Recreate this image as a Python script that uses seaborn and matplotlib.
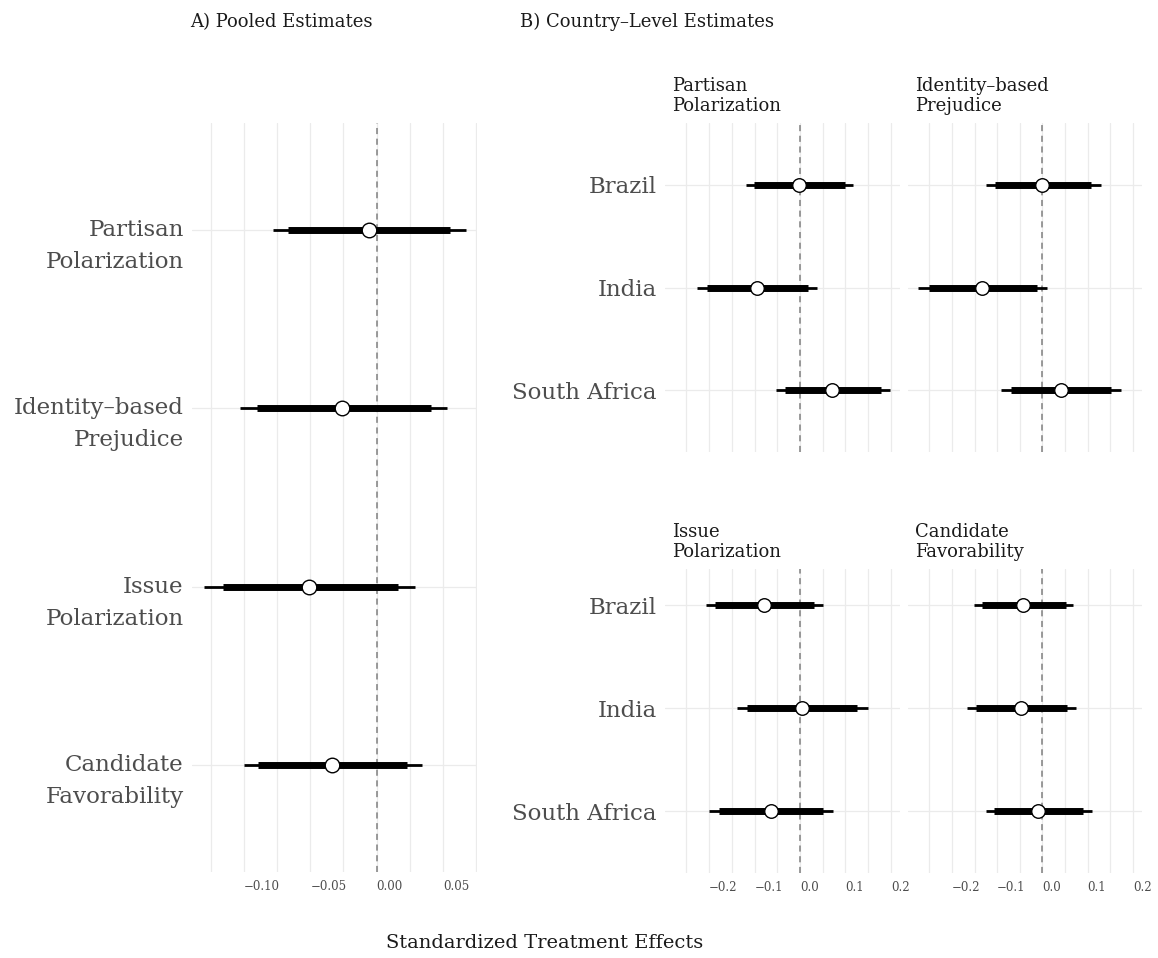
import numpy as np
import pandas as pd
import matplotlib
matplotlib.use("Agg")
import matplotlib.pyplot as plt
import seaborn as sns
from matplotlib.ticker import MultipleLocator
from matplotlib.transforms import ScaledTranslation

# --- data ---
pooled_outcomes = ["Partisan\nPolarization", "Identity–based\nPrejudice",
                   "Issue\nPolarization", "Candidate\nFavorability"]
pooled_est = [-0.006, -0.026, -0.051, -0.034]
pooled_lo95 = [-0.078, -0.103, -0.130, -0.100]
pooled_lo90 = [-0.067, -0.090, -0.116, -0.089]
pooled_hi90 = [0.055, 0.041, 0.016, 0.023]
pooled_hi95 = [0.067, 0.053, 0.029, 0.034]

countries = ["Brazil", "India", "South Africa"]

partisan_est = [-0.002, -0.095, 0.070]
partisan_lo95 = [-0.119, -0.226, -0.053]
partisan_lo90 = [-0.101, -0.204, -0.033]
partisan_hi90 = [0.099, 0.018, 0.178]
partisan_hi95 = [0.117, 0.037, 0.198]

identity_est = [0.000, -0.134, 0.040]
identity_lo95 = [-0.125, -0.275, -0.092]
identity_lo90 = [-0.104, -0.250, -0.070]
identity_hi90 = [0.108, -0.013, 0.152]
identity_hi95 = [0.129, 0.011, 0.174]

issue_est = [-0.079, 0.004, -0.064]
issue_lo95 = [-0.207, -0.139, -0.200]
issue_lo90 = [-0.187, -0.116, -0.178]
issue_hi90 = [0.031, 0.126, 0.050]
issue_hi95 = [0.051, 0.150, 0.073]

candidate_est = [-0.044, -0.048, -0.009]
candidate_lo95 = [-0.152, -0.167, -0.125]
candidate_lo90 = [-0.134, -0.147, -0.108]
candidate_hi90 = [0.051, 0.055, 0.090]
candidate_hi95 = [0.068, 0.075, 0.110]

pooled_ticks = [-0.10, -0.05, 0.00, 0.05]
country_ticks = [-0.2, -0.1, 0.0, 0.1, 0.2]

sns.set_theme(style="white")
plt.rcParams["font.family"] = ["DejaVu Serif"]

W, H = 1158, 958
fig = plt.figure(figsize=(W / 100, H / 100), dpi=100)


def px_axes(l, t, r, b):
    return fig.add_axes([l / W, 1 - b / H, (r - l) / W, (b - t) / H])


def forest(ax, labels, est, lo95, lo90, hi90, hi95, size, ticks, fmt, minor, ylim_top=0.6):
    df = pd.DataFrame({"pos": np.arange(len(labels)), "est": est,
                       "lo95": lo95, "lo90": lo90, "hi90": hi90, "hi95": hi95})
    ax.axvline(0, color="#7f7f7f", lw=1.1, ls=(0, (4, 3)), zorder=1)
    ax.hlines(df["pos"], df["lo95"], df["hi95"], color="black", lw=2.0, zorder=2)
    ax.hlines(df["pos"], df["lo90"], df["hi90"], color="black", lw=5.0, zorder=3)
    sns.scatterplot(data=df, x="est", y="pos", ax=ax, s=size, color="white",
                    edgecolor="black", linewidth=1.0, zorder=4, legend=False)
    ax.set_ylim(len(labels) - 1 + 0.6, -ylim_top)
    ax.set_yticks(df["pos"])
    ax.set_yticklabels(labels)
    ax.set_xticks(ticks)
    ax.set_xticklabels([fmt.format(t).replace("-", "\u2212") for t in ticks])
    for lbl in ax.get_xticklabels():
        lbl.set_ha("left")
    ax.xaxis.set_minor_locator(MultipleLocator(minor))
    ax.grid(which="both", axis="x", color="#ebebeb", lw=0.9)
    ax.grid(which="major", axis="y", color="#ebebeb", lw=0.9)
    ax.set_axisbelow(True)
    for sp in ax.spines.values():
        sp.set_visible(False)
    ax.tick_params(axis="x", which="both", length=0, pad=6, labelsize=8.5, labelcolor="#4d4d4d")
    ax.tick_params(axis="y", which="both", length=0, pad=6, labelsize=16.5, labelcolor="#4d4d4d")
    ax.set_xlabel("")
    ax.set_ylabel("")


# --- A) pooled ---
axA = px_axes(192, 123, 477, 872)
forest(axA, pooled_outcomes, pooled_est, pooled_lo95, pooled_lo90, pooled_hi90,
       pooled_hi95, 110, pooled_ticks, "{:.2f}", 0.025)
axA.set_xlim(-0.139, 0.0755)
for lbl in axA.get_yticklabels():
    lbl.set_va("top")
    lbl.set_linespacing(1.6)
    lbl.set_transform(lbl.get_transform() + ScaledTranslation(0, 8 / 72, fig.dpi_scale_trans))

# --- B) country level ---
panels = [
    ("Partisan\nPolarization", partisan_est, partisan_lo95, partisan_lo90, partisan_hi90, partisan_hi95),
    ("Identity–based\nPrejudice", identity_est, identity_lo95, identity_lo90, identity_hi90, identity_hi95),
    ("Issue\nPolarization", issue_est, issue_lo95, issue_lo90, issue_hi90, issue_hi95),
    ("Candidate\nFavorability", candidate_est, candidate_lo95, candidate_lo90, candidate_hi90, candidate_hi95),
]
boxes = [(665, 123, 900, 452), (908, 123, 1142, 452),
         (665, 569, 900, 873), (908, 569, 1142, 873)]
for i, ((title, est, lo95, lo90, hi90, hi95), box) in enumerate(zip(panels, boxes)):
    ax = px_axes(*box)
    top = 0.6 if i < 2 else 0.35
    forest(ax, countries, est, lo95, lo90, hi90, hi95, 95, country_ticks, "{:.1f}", 0.05, top)
    ax.set_xlim(-0.297, 0.22)
    if i % 2 == 1:
        ax.set_yticklabels([])
    if i < 2:
        ax.set_xticklabels([])
    ax.annotate(title, xy=(0.03, 1.0), xycoords="axes fraction", xytext=(0, 6),
                textcoords="offset points", ha="left", va="bottom", fontsize=13,
                color="#1a1a1a", linespacing=1.12)

fig.text(190 / W, 1 - 22 / H, "A) Pooled Estimates", ha="left", va="center",
         fontsize=13, color="#1a1a1a")
fig.text(520 / W, 1 - 22 / H, "B) Country–Level Estimates", ha="left", va="center",
         fontsize=13, color="#1a1a1a")
fig.text(545 / W, 1 - 943 / H, "Standardized Treatment Effects", ha="center",
         va="center", fontsize=14, color="#1a1a1a")

fig.savefig("out.png", dpi=100, facecolor="white")
